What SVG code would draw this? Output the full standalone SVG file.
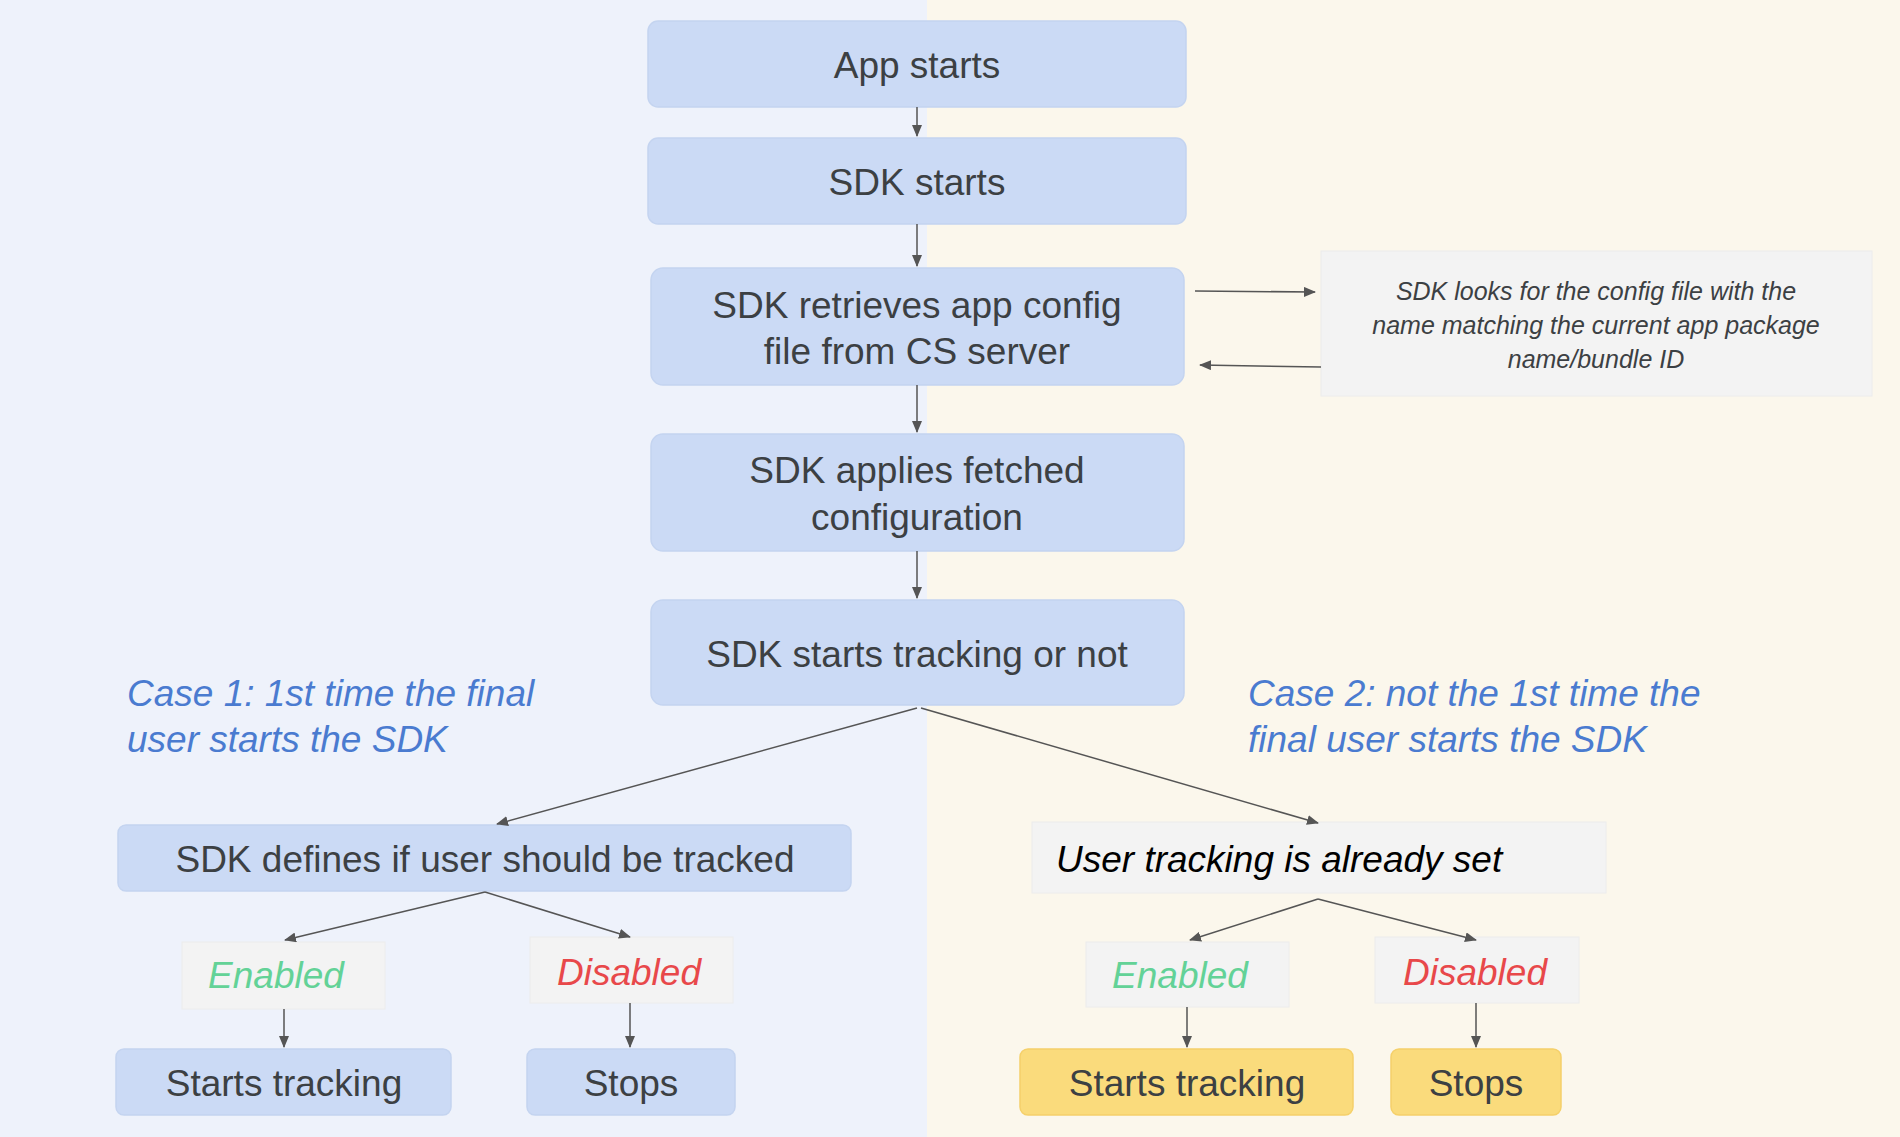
<svg xmlns="http://www.w3.org/2000/svg" width="1900" height="1137" viewBox="0 0 1900 1137">
<style>
text{font-family:"Liberation Sans",Arial,sans-serif;fill:#3c4043;text-anchor:middle;dominant-baseline:central}
.b{fill:#cbdaf5;stroke:#c4d4f0;stroke-width:1.5}
.y{fill:#fadb7c;stroke:#f5d06a;stroke-width:1.5}
.g{fill:#f3f3f3;stroke:#ececec;stroke-width:1}
.m{font-size:37px}
.i{font-style:italic}
.c{font-style:italic;font-size:37px;fill:#4a7bd0;text-anchor:start}
.e{fill:#63d297}
.d{fill:#e8484a}
.cn line{stroke:#555;stroke-width:1.5;marker-end:url(#a)}
</style>
<defs><marker id="a" markerWidth="12" markerHeight="10" refX="11" refY="5" orient="auto" markerUnits="userSpaceOnUse"><path d="M0,0L12,5L0,10z" fill="#555"/></marker></defs>
<rect x="0" y="0" width="927" height="1137" fill="#eef2fb"/>
<rect x="927" y="0" width="973" height="1137" fill="#fbf7ec"/>
<g id="n1"><rect class="b" x="648" y="21" width="538" height="86" rx="10"/><text class="m" x="917" y="65">App starts</text></g>
<g id="n2"><rect class="b" x="648" y="138" width="538" height="86" rx="10"/><text class="m" x="917" y="182">SDK starts</text></g>
<g id="n3"><rect class="b" x="651" y="268" width="533" height="117" rx="12"/><text class="m" x="917" y="305">SDK retrieves  app config</text><text class="m" x="917" y="351">file from CS server</text></g>
<g id="note"><rect class="g" x="1321" y="251" width="551" height="145"/><text class="i" font-size="25" x="1596" y="291">SDK looks for the config file with the</text><text class="i" font-size="25" x="1596" y="325">name matching the current app package</text><text class="i" font-size="25" x="1596" y="359">name/bundle ID</text></g>
<g id="n4"><rect class="b" x="651" y="434" width="533" height="117" rx="12"/><text class="m" x="917" y="470">SDK applies fetched</text><text class="m" x="917" y="517">configuration</text></g>
<g id="n5"><rect class="b" x="651" y="600" width="533" height="105" rx="12"/><text class="m" x="917" y="654">SDK starts tracking or not</text></g>
<g id="case1"><text class="c" x="127" y="693">Case 1: 1st time the final</text><text class="c" x="127" y="739">user starts the SDK</text></g>
<g id="case2"><text class="c" x="1248" y="693">Case 2: not the 1st time the</text><text class="c" x="1248" y="739">final user starts the SDK</text></g>
<g id="n6"><rect class="b" x="118" y="825" width="733" height="66" rx="8"/><text class="m" x="485" y="859">SDK defines if user should be tracked</text></g>
<g id="n7"><rect class="g" x="1032" y="822" width="574" height="71"/><text class="m i" x="1056" y="859" style="text-anchor:start;fill:#000">User tracking is already set</text></g>
<g id="e1"><rect class="g" x="182" y="942" width="203" height="67"/><text class="m i e" x="276" y="975">Enabled</text></g>
<g id="d1"><rect class="g" x="530" y="937" width="203" height="66"/><text class="m i d" x="629" y="972">Disabled</text></g>
<g id="e2"><rect class="g" x="1086" y="942" width="203" height="65"/><text class="m i e" x="1180" y="975">Enabled</text></g>
<g id="d2"><rect class="g" x="1375" y="937" width="204" height="66"/><text class="m i d" x="1475" y="972">Disabled</text></g>
<g id="s1"><rect class="b" x="116" y="1049" width="335" height="66" rx="8"/><text class="m" x="284" y="1083">Starts tracking</text></g>
<g id="p1"><rect class="b" x="527" y="1049" width="208" height="66" rx="8"/><text class="m" x="631" y="1083">Stops</text></g>
<g id="s2"><rect class="y" x="1020" y="1049" width="333" height="66" rx="8"/><text class="m" x="1187" y="1083">Starts tracking</text></g>
<g id="p2"><rect class="y" x="1391" y="1049" width="170" height="66" rx="8"/><text class="m" x="1476" y="1083">Stops</text></g>
<g class="cn" id="connectors">
<line x1="917" y1="107" x2="917" y2="136"/>
<line x1="917" y1="224" x2="917" y2="266"/>
<line x1="917" y1="385" x2="917" y2="432"/>
<line x1="917" y1="551" x2="917" y2="598"/>
<line x1="1195" y1="291" x2="1315" y2="292"/>
<line x1="1321" y1="367" x2="1200" y2="365"/>
<line x1="917" y1="708" x2="497" y2="824"/>
<line x1="921" y1="708" x2="1318" y2="823"/>
<line x1="485" y1="892" x2="285" y2="940"/>
<line x1="485" y1="892" x2="630" y2="937"/>
<line x1="1318" y1="899" x2="1190" y2="940"/>
<line x1="1318" y1="899" x2="1476" y2="940"/>
<line x1="284" y1="1009" x2="284" y2="1047"/>
<line x1="630" y1="1003" x2="630" y2="1047"/>
<line x1="1187" y1="1007" x2="1187" y2="1047"/>
<line x1="1476" y1="1003" x2="1476" y2="1047"/>
</g>
</svg>
